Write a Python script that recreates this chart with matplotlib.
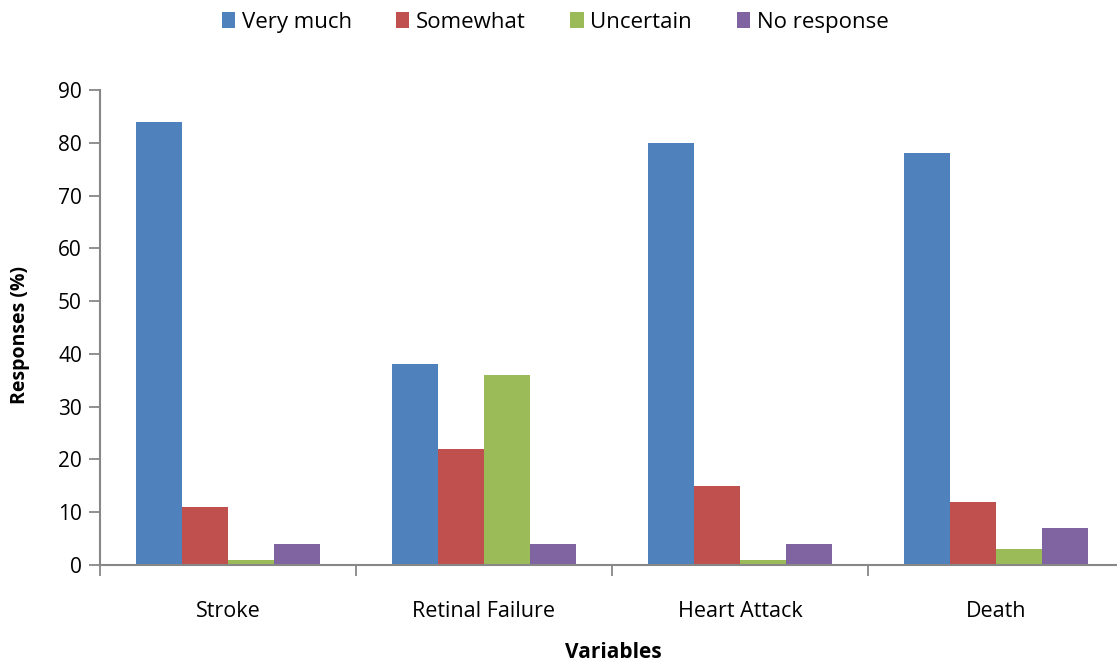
import matplotlib
matplotlib.use("Agg")
import matplotlib.pyplot as plt
import numpy as np

categories = ["Stroke", "Retinal Failure", "Heart Attack", "Death"]
series_names = ["Very much", "Somewhat", "Uncertain", "No response"]
very_much = [84, 38, 80, 78]
somewhat = [11, 22, 15, 12]
uncertain = [1, 36, 1, 3]
no_response = [4, 4, 4, 7]
y_ticks = [0, 10, 20, 30, 40, 50, 60, 70, 80, 90]

colors = ["#4F81BD", "#C0504D", "#9BBB59", "#8064A2"]
axis_gray = "#878787"
font = ["Open Sans", "DejaVu Sans"]
plt.rcParams["font.family"] = font

W, H = 1117, 663
fig = plt.figure(figsize=(W / 100, H / 100), dpi=100)
# the category axis runs slightly past the right edge of the canvas
ax = fig.add_axes([100 / W, 98 / H, 1024 / W, 475 / H])

x = np.arange(len(categories))
bw = 0.18
all_series = [very_much, somewhat, uncertain, no_response]
for i, (vals, name, c) in enumerate(zip(all_series, series_names, colors)):
    ax.bar(x + 0.5 + (i - 1.5) * bw, vals, width=bw, color=c, label=name,
           linewidth=0)

ax.set_xlim(0, len(categories))
ax.set_ylim(0, 90)
ax.set_yticks(y_ticks)
ax.set_xticks(np.arange(len(categories) + 1))
ax.set_xticklabels([])
ax.set_xticks(x + 0.5, minor=True)
ax.set_xticklabels(categories, minor=True)
ax.tick_params(axis="x", which="minor", length=0, pad=26, labelsize=15.5)
ax.tick_params(axis="x", which="major", length=8, color=axis_gray, width=1.3)
ax.tick_params(axis="y", length=8, color=axis_gray, width=1.3, labelsize=15,
               pad=5)

for s in ["top", "right"]:
    ax.spines[s].set_visible(False)
for s in ["left", "bottom"]:
    ax.spines[s].set_color(axis_gray)
    ax.spines[s].set_linewidth(1.5)

fig.text(613 / W, 1 - 653 / H, "Variables", ha="center", va="center",
         fontsize=15, fontweight="bold")
fig.text(20 / W, 1 - 335 / H, "Responses (%)", ha="center", va="center",
         rotation=90, fontsize=14, fontweight="bold")

fig.legend(loc="upper center", bbox_to_anchor=(555 / W, 1.012), ncol=4,
           frameon=False, fontsize=16, handlelength=0.6, handleheight=0.7,
           handletextpad=0.3, columnspacing=2.0)

fig.savefig("out.png", dpi=100)
